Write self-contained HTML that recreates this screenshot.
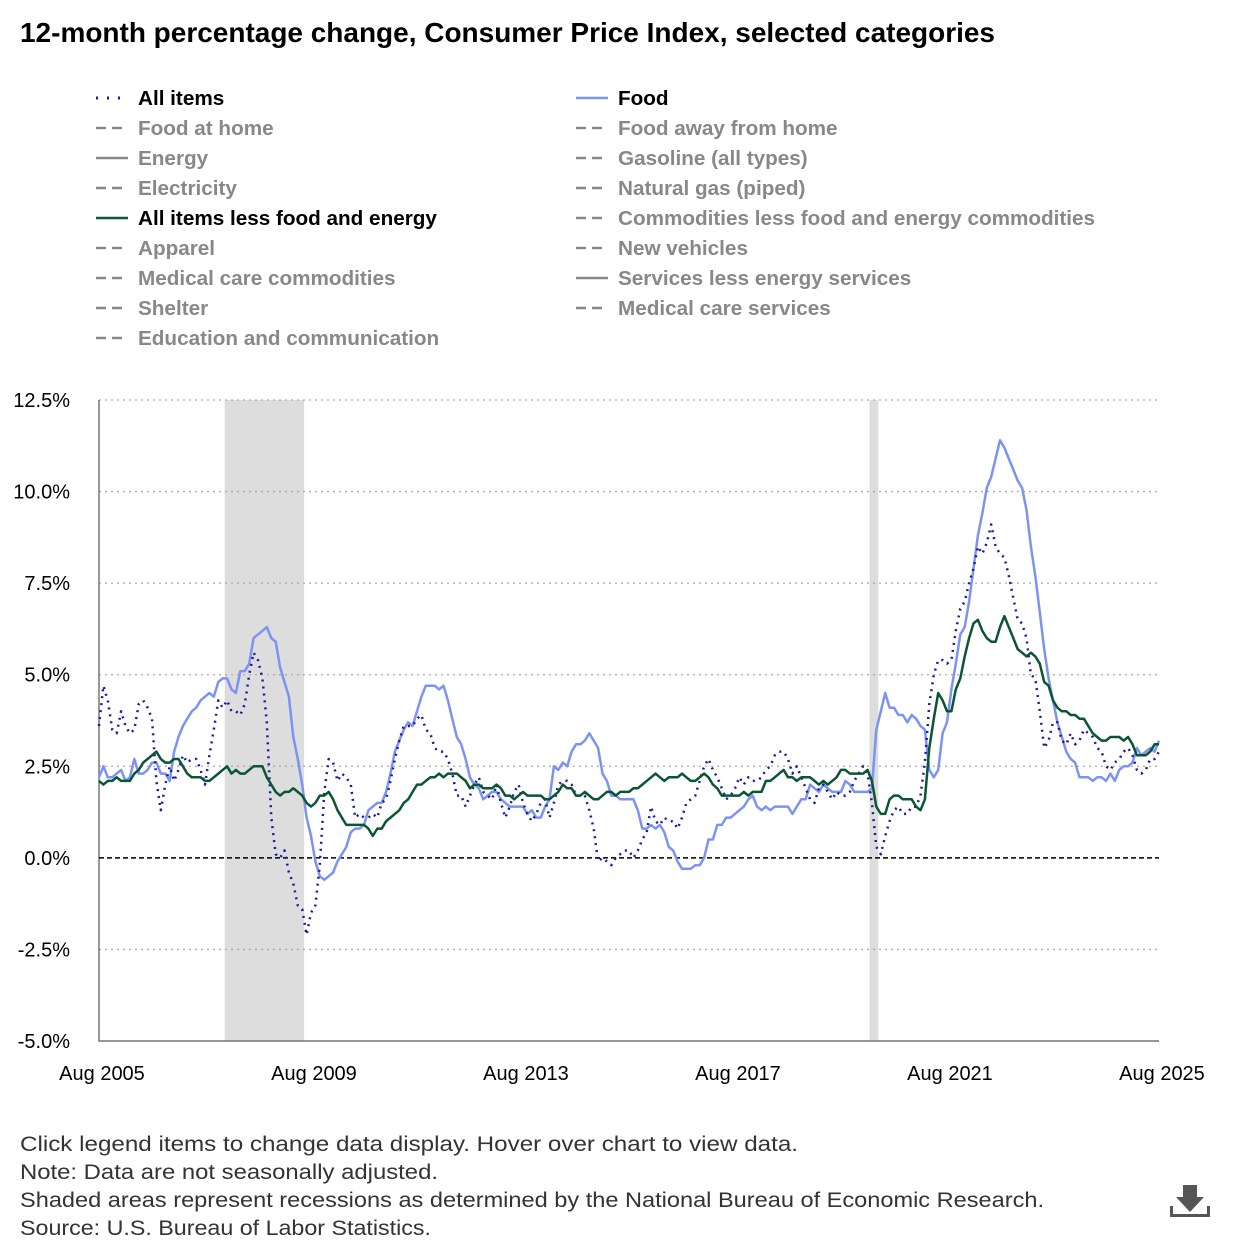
<!DOCTYPE html>
<html><head><meta charset="utf-8"><style>
body{margin:0;background:#fff;width:1240px;height:1240px;overflow:hidden;font-family:"Liberation Sans","DejaVu Sans",sans-serif;}
</style></head><body>
<svg width="1240" height="1240" viewBox="0 0 1240 1240" xmlns="http://www.w3.org/2000/svg" font-family="Liberation Sans, DejaVu Sans, sans-serif" id="chart">
<text x="20" y="42" font-size="28" font-weight="bold" fill="#000" textLength="975" lengthAdjust="spacingAndGlyphs">12-month percentage change, Consumer Price Index, selected categories</text>
<g id="legend"></g>
<g id="grid"></g>
<g id="plot"></g>
<g font-size="21" fill="#333">
<text x="20" y="1151" textLength="778" lengthAdjust="spacingAndGlyphs">Click legend items to change data display. Hover over chart to view data.</text>
<text x="20" y="1179" textLength="418" lengthAdjust="spacingAndGlyphs">Note: Data are not seasonally adjusted.</text>
<text x="20" y="1207" textLength="1024" lengthAdjust="spacingAndGlyphs">Shaded areas represent recessions as determined by the National Bureau of Economic Research.</text>
<text x="20" y="1235" textLength="411" lengthAdjust="spacingAndGlyphs">Source: U.S. Bureau of Labor Statistics.</text>
</g>
<g fill="#555">
<rect x="1183" y="1185" width="14" height="12"/><polygon points="1176,1197 1204,1197 1190,1212"/>
<rect x="1170" y="1214" width="40" height="3"/><rect x="1170" y="1206" width="3" height="10"/><rect x="1207" y="1206" width="3" height="10"/>
</g>
</svg>
<script>
const ns="http://www.w3.org/2000/svg";
const allItems=[3.6,4.7,4.3,3.5,3.4,
4.0,3.6,3.4,3.5,4.2,4.3,4.1,3.8,2.1,1.3,2.0,2.5,
2.1,2.4,2.8,2.6,2.7,2.7,2.4,2.0,2.8,3.5,4.3,4.1,
4.3,4.0,4.0,3.9,4.2,5.0,5.6,5.4,4.9,3.7,1.1,0.1,
0.0,0.2,-0.4,-0.7,-1.3,-1.4,-2.1,-1.5,-1.3,-0.2,1.8,2.7,
2.6,2.1,2.3,2.2,2.0,1.1,1.2,1.1,1.1,1.2,1.1,1.5,
1.6,2.1,2.7,3.2,3.6,3.6,3.6,3.8,3.9,3.5,3.4,3.0,
2.9,2.9,2.7,2.3,1.7,1.7,1.4,1.7,2.0,2.2,1.8,1.7,
1.6,2.0,1.5,1.1,1.4,1.8,2.0,1.5,1.2,1.0,1.2,1.5,
1.6,1.1,1.5,2.0,2.1,2.1,2.0,1.7,1.7,1.7,1.3,0.8,
-0.1,0.0,-0.1,-0.2,0.0,0.1,0.2,0.2,0.0,0.2,0.5,0.7,
1.4,1.0,0.9,1.1,1.0,1.0,0.8,1.1,1.5,1.6,1.7,2.1,
2.5,2.7,2.4,2.2,1.9,1.6,1.7,1.9,2.2,2.0,2.2,2.1,
2.1,2.2,2.4,2.5,2.8,2.9,2.9,2.7,2.3,2.5,2.2,1.9,
1.6,1.5,1.9,2.0,1.8,1.6,1.8,1.7,1.7,1.8,2.1,2.3,
2.5,2.3,1.5,0.3,0.1,0.6,1.0,1.3,1.4,1.2,1.2,1.4,
1.4,1.7,2.6,4.2,5.0,5.4,5.4,5.3,5.4,6.2,6.8,7.0,
7.5,7.9,8.5,8.3,8.6,9.1,8.5,8.3,8.2,7.7,7.1,6.5,
6.4,6.0,5.0,4.9,4.0,3.0,3.2,3.7,3.7,3.2,3.1,3.4,
3.1,3.2,3.5,3.4,3.3,3.0,2.9,2.5,2.4,2.6,2.7,2.9,
3.0,2.8,2.4,2.3,2.4,2.7,2.7,2.9];
const food=[2.2,2.5,2.2,2.2,2.3,
2.4,2.1,2.2,2.7,2.3,2.3,2.4,2.6,2.6,2.3,2.3,2.1,
2.9,3.3,3.6,3.8,4.0,4.1,4.3,4.4,4.5,4.4,4.8,4.9,
4.9,4.6,4.5,5.1,5.1,5.3,6.0,6.1,6.2,6.3,6.0,5.9,
5.2,4.8,4.4,3.3,2.7,2.0,1.1,0.6,-0.1,-0.5,-0.6,-0.5,
-0.4,-0.1,0.1,0.3,0.7,0.8,0.8,0.9,1.3,1.4,1.5,1.5,
1.8,2.3,2.9,3.2,3.5,3.7,3.6,4.0,4.4,4.7,4.7,4.7,
4.6,4.7,4.3,3.8,3.3,3.1,2.7,2.2,2.0,1.9,1.6,1.7,
1.8,1.8,1.6,1.5,1.4,1.4,1.4,1.4,1.2,1.3,1.1,1.1,
1.4,1.6,2.5,2.4,2.6,2.5,2.9,3.1,3.1,3.2,3.4,3.2,
3.0,2.3,2.1,1.7,1.7,1.6,1.6,1.6,1.6,1.3,0.8,0.8,
0.9,0.8,0.9,0.7,0.3,0.2,-0.1,-0.3,-0.3,-0.3,-0.2,-0.2,
0.0,0.5,0.5,0.9,0.9,1.1,1.1,1.2,1.3,1.4,1.6,1.7,
1.4,1.3,1.4,1.3,1.4,1.4,1.4,1.4,1.2,1.4,1.6,1.6,
2.0,1.9,1.8,2.0,1.9,1.8,1.8,1.8,2.1,2.0,1.8,1.8,
1.8,1.8,1.9,3.5,4.0,4.5,4.1,4.1,3.9,3.9,3.7,3.9,
3.8,3.6,3.5,2.4,2.2,2.4,3.4,3.7,4.6,5.3,6.1,6.3,
7.0,7.9,8.8,9.4,10.1,10.4,10.9,11.4,11.2,10.9,10.6,10.3,
10.1,9.5,8.5,7.7,6.7,5.7,4.9,4.3,3.7,3.3,2.9,2.7,
2.6,2.2,2.2,2.2,2.1,2.2,2.2,2.1,2.3,2.1,2.4,2.5,
2.5,2.6,3.0,2.8,2.9,3.0,2.9,3.2];
const core=[2.1,2.0,2.1,2.1,2.2,
2.1,2.1,2.1,2.3,2.4,2.6,2.7,2.8,2.9,2.7,2.6,2.6,
2.7,2.7,2.5,2.3,2.2,2.2,2.2,2.1,2.1,2.2,2.3,2.4,
2.5,2.3,2.4,2.3,2.3,2.4,2.5,2.5,2.5,2.2,2.0,1.8,
1.7,1.8,1.8,1.9,1.8,1.7,1.5,1.4,1.5,1.7,1.7,1.8,
1.6,1.3,1.1,0.9,0.9,0.9,0.9,0.9,0.8,0.6,0.8,0.8,
1.0,1.1,1.2,1.3,1.5,1.6,1.8,2.0,2.0,2.1,2.2,2.2,
2.3,2.2,2.3,2.3,2.3,2.2,2.1,1.9,2.0,2.0,1.9,1.9,
1.9,2.0,1.9,1.7,1.7,1.6,1.7,1.8,1.7,1.7,1.7,1.7,
1.6,1.6,1.7,1.8,2.0,1.9,1.9,1.7,1.7,1.8,1.7,1.6,
1.6,1.7,1.8,1.8,1.7,1.8,1.8,1.8,1.9,1.9,2.0,2.1,
2.2,2.3,2.2,2.1,2.2,2.2,2.2,2.3,2.2,2.1,2.1,2.2,
2.3,2.2,2.0,1.9,1.7,1.7,1.7,1.7,1.7,1.8,1.7,1.8,
1.8,1.8,2.1,2.1,2.2,2.3,2.4,2.2,2.2,2.1,2.2,2.2,
2.2,2.1,2.0,2.1,2.0,2.1,2.2,2.4,2.4,2.3,2.3,2.3,
2.3,2.4,2.1,1.4,1.2,1.2,1.6,1.7,1.7,1.6,1.6,1.6,
1.4,1.3,1.6,3.0,3.8,4.5,4.3,4.0,4.0,4.6,4.9,5.5,
6.0,6.4,6.5,6.2,6.0,5.9,5.9,6.3,6.6,6.3,6.0,5.7,
5.6,5.5,5.6,5.5,5.3,4.8,4.7,4.3,4.1,4.0,4.0,3.9,
3.9,3.8,3.8,3.6,3.4,3.3,3.2,3.2,3.3,3.3,3.3,3.2,
3.3,3.1,2.8,2.8,2.8,2.9,3.1,3.1];
const yTicks=[12.5,10.0,7.5,5.0,2.5,0.0,-2.5,-5.0];
const xTickLabels=["Aug 2005","Aug 2009","Aug 2013","Aug 2017","Aug 2021","Aug 2025"];
const xTickMonths=[0,48,96,144,192,240];
const recessions=[[28,46],[174,176]];
const legendItems=[["All items","dot",1],["Food","food",1],["Food at home","dash",0],["Food away from home","dash",0],["Energy","solid",0],["Gasoline (all types)","dash",0],["Electricity","dash",0],["Natural gas (piped)","dash",0],["All items less food and energy","core",1],["Commodities less food and energy commodities","dash",0],["Apparel","dash",0],["New vehicles","dash",0],["Medical care commodities","dash",0],["Services less energy services","solid",0],["Shelter","dash",0],["Medical care services","dash",0],["Education and communication","dash",0]];
const X0=99,X1=1159,Y0=1041,Y1=400;
const xS=m=>X0+(X1-X0)*m/240;
const yS=v=>Y0-(Y0-Y1)*(v+5)/17.5;
function mk(t,a,p){const e=document.createElementNS(ns,t);for(const k in a)e.setAttribute(k,a[k]);p.appendChild(e);return e;}
const grid=document.getElementById('grid'),plot=document.getElementById('plot'),leg=document.getElementById('legend');
recessions.forEach(r=>{const e=mk('rect',{x:xS(r[0])+2,y:Y1,width:xS(r[1])-xS(r[0]),height:Y0-Y1,fill:'#ddd'},grid);

});
yTicks.forEach(v=>{
 if(v!==-5&&v!==0){const l=mk('line',{x1:X0,x2:X1,y1:yS(v),y2:yS(v),stroke:'#aaa','stroke-dasharray':'2,4','stroke-width':1.3},grid);
 
 }
 const t=mk('text',{x:70,y:yS(v)+7,'text-anchor':'end','font-size':20,fill:'#000'},grid);t.textContent=v.toFixed(1)+'%';
 
 
});
const ax=mk('path',{d:`M${X0},${Y1}V${Y0}H${X1}`,fill:'none',stroke:'#777','stroke-width':1.5},grid);


const z=mk('line',{x1:X0,x2:X1,y1:yS(0),y2:yS(0),stroke:'#000','stroke-dasharray':'5,3','stroke-width':1.5},grid);


xTickMonths.forEach((m,i)=>{const t=mk('text',{x:xS(m)+3,y:1080,'text-anchor':'middle','font-size':20,fill:'#000'},grid);t.textContent=xTickLabels[i];

});
function line(arr,st){return mk('path',Object.assign({d:arr.map((v,i)=>(i?'L':'M')+xS(i).toFixed(1)+','+yS(v).toFixed(1)).join(''),fill:'none','stroke-linejoin':'round'},st),plot);}
const pf=line(food,{stroke:'#7d93f3','stroke-width':2.5});


const pa=line(allItems,{stroke:'#1a1aa0','stroke-width':2.5,'stroke-dasharray':'2,5'});


const pc=line(core,{stroke:'#0b5535','stroke-width':2.5});


legendItems.forEach((it,i)=>{
 const col=i%2,row=Math.floor(i/2);const lx=col?576:96,ty=98+row*30;
 const g=mk('g',{},leg);
 
 
 let st={stroke:'#888','stroke-width':2.5};
 if(it[1]==='dash')st['stroke-dasharray']='10,6';
 if(it[1]==='dot'){st={stroke:'#1a1aa0','stroke-width':3,'stroke-dasharray':'2,9'};}
 if(it[1]==='food')st={stroke:'#7d93f3','stroke-width':2.5};
 if(it[1]==='core')st={stroke:'#0b5535','stroke-width':2.5};
 mk('line',Object.assign({x1:lx,x2:lx+32,y1:ty,y2:ty},st),g);
 const t=mk('text',{x:lx+42,y:ty+7,'font-size':20.7,'font-weight':'bold',fill:it[2]?'#000':'#888'},g);t.textContent=it[0];
});
</script>
</body></html>
